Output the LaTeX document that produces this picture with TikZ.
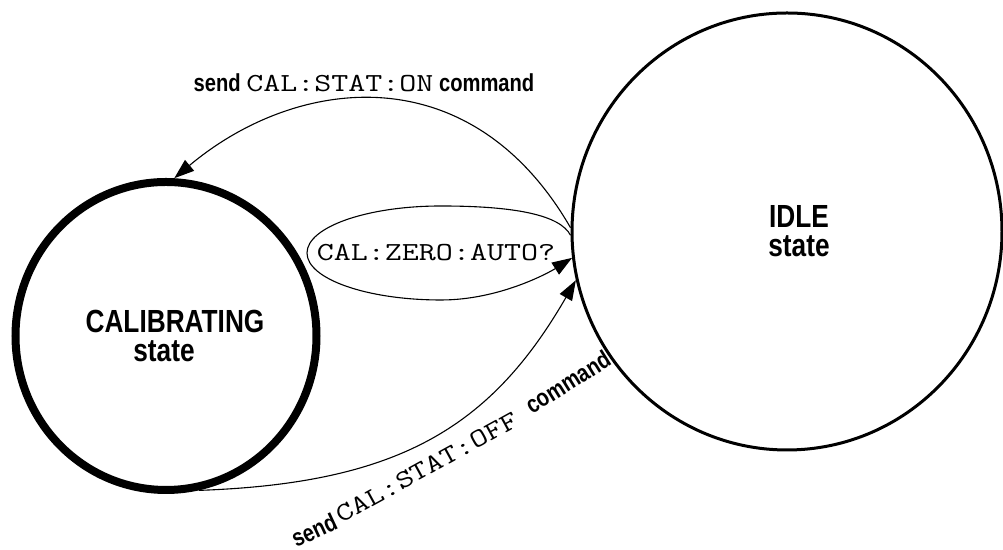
\documentclass[tikz,border=0pt]{standalone}
\usepackage{fontspec}
\usepackage{graphicx}
\usetikzlibrary{shapes.geometric,arrows.meta}
\newfontfamily\condsans[FakeStretch=0.82]{Liberation Sans}
\newcommand{\scpi}[1]{{\fontsize{13}{13}\selectfont\ttfamily\mdseries\scalebox{1.27}[1]{#1}}}

\tikzset{
  state/.style={draw, ellipse, align=center, inner sep=0pt,
    font=\condsans\bfseries\fontsize{16}{14.6}\selectfont},
  trans/.style={line width=0.55pt, -{Triangle[length=10pt,width=7pt]}},
  translabel/.style={inner sep=1pt, font=\condsans\bfseries\fontsize{12.3}{13}\selectfont}
}

\begin{document}
\begin{tikzpicture}[x=0.5pt, y=0.5pt]
    \useasboundingbox (0,0) rectangle (1003,550);

    % States
    \node[state, line width=4pt, minimum width=150.5pt, minimum height=154pt] (cal) at (166,214)
        {\hspace*{9pt}CALIBRATING\\state\hspace*{2pt}};
    \node[state, line width=1.5pt, minimum width=215pt, minimum height=218.5pt] (idle) at (787,318.5)
        {\hspace*{12pt}IDLE\\\hspace*{12pt}state};

    % IDLE -> CALIBRATING
    \draw[trans] (idle.179) .. controls +(120:200) and +(40:160) .. (cal.87);
    \node[translabel, anchor=base] (onlbl) at (364,458) {send \scpi{CAL:STAT:ON} command};

    % Query loop on IDLE
    \draw[trans] (idle.181) .. controls (560,335) and (515,344) .. (441,344)
        .. controls (367,344) and (307,323) .. (307,297)
        .. controls (307,271) and (367,250) .. (441,250)
        .. controls (500,250) and (550,278) .. (idle.187);
    \node[translabel] (zerolbl) at (436,297) {\scpi{CAL:ZERO:AUTO?}};

    % CALIBRATING -> IDLE
    \draw[trans] (cal.282) .. controls +(2:200) and +(240:170) .. (idle.193);
    \node[translabel, rotate=25] (sendlbl) at (314,20) {send};
    \node[translabel, rotate=28.8] (offlbl) at (427,82.5) {\scpi{CAL:STAT:OFF}};
    \node[translabel, rotate=32] (cmdlbl) at (568,168) {command};
\end{tikzpicture}
\end{document}
